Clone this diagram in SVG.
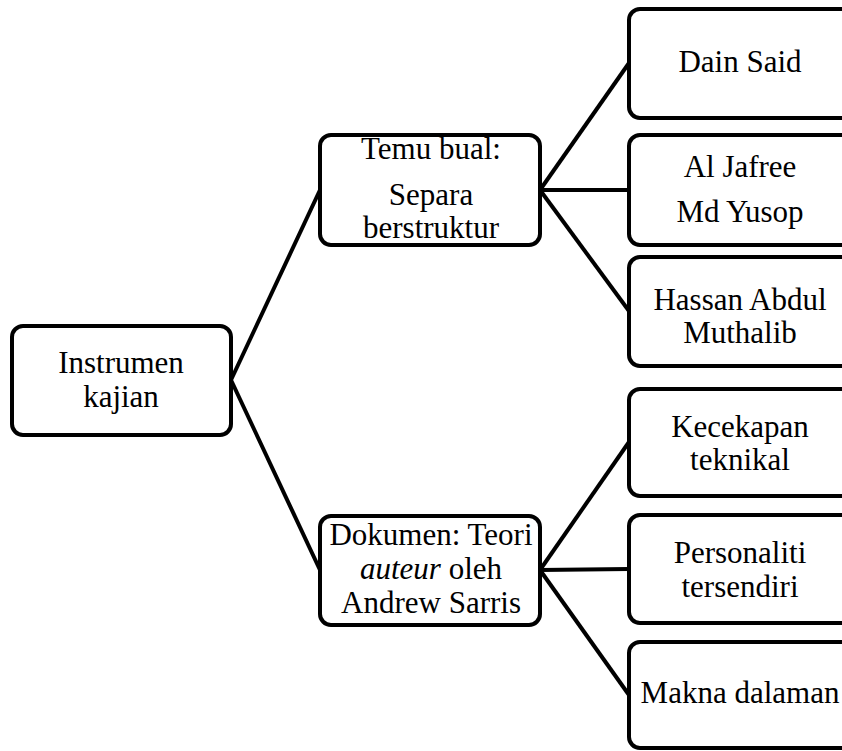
<svg xmlns="http://www.w3.org/2000/svg" width="842" height="751" viewBox="0 0 842 751">
<style>
.box{fill:#fff;stroke:#000;stroke-width:4}
.t{font-family:"Liberation Serif","Times New Roman",serif;font-size:31px;fill:#000;text-anchor:middle}
.c{stroke:#000;stroke-width:4;fill:none}
</style>
<rect width="842" height="751" fill="#fff"/>
<g id="connectors">
<line class="c" x1="231" y1="380" x2="320" y2="190"/>
<line class="c" x1="231" y1="380" x2="320" y2="570"/>
<line class="c" x1="540" y1="190" x2="629" y2="63"/>
<line class="c" x1="540" y1="190" x2="629" y2="190"/>
<line class="c" x1="540" y1="190" x2="629" y2="311"/>
<line class="c" x1="540" y1="570" x2="629" y2="442"/>
<line class="c" x1="540" y1="570" x2="629" y2="569"/>
<line class="c" x1="540" y1="570" x2="629" y2="695"/>
</g>
<g id="root">
<rect class="box" x="12" y="326" width="219" height="109" rx="11"/>
<text class="t" x="121" y="373">Instrumen</text>
<text class="t" x="121" y="407">kajian</text>
</g>
<g id="temu">
<rect class="box" x="320" y="135" width="220" height="110" rx="11"/>
<text class="t" x="431" y="159">Temu bual:</text>
<text class="t" x="431" y="205">Separa</text>
<text class="t" x="431" y="238">berstruktur</text>
</g>
<g id="dokumen">
<rect class="box" x="320" y="516" width="220" height="109" rx="11"/>
<text class="t" x="431" y="545">Dokumen: Teori</text>
<text class="t" x="431" y="579"><tspan font-style="italic">auteur</tspan> oleh</text>
<text class="t" x="431" y="613">Andrew Sarris</text>
</g>
<g id="dain">
<rect class="box" x="629" y="9" width="223" height="109" rx="11"/>
<text class="t" x="740" y="72">Dain Said</text>
</g>
<g id="aljafree">
<rect class="box" x="629" y="135" width="223" height="110" rx="11"/>
<text class="t" x="740" y="177">Al Jafree</text>
<text class="t" x="740" y="222">Md Yusop</text>
</g>
<g id="hassan">
<rect class="box" x="629" y="257" width="223" height="109" rx="11"/>
<text class="t" x="740" y="310">Hassan Abdul</text>
<text class="t" x="740" y="343">Muthalib</text>
</g>
<g id="kecekapan">
<rect class="box" x="629" y="389" width="223" height="107" rx="11"/>
<text class="t" x="740" y="437">Kecekapan</text>
<text class="t" x="740" y="470">teknikal</text>
</g>
<g id="personaliti">
<rect class="box" x="629" y="515" width="223" height="108" rx="11"/>
<text class="t" x="740" y="563">Personaliti</text>
<text class="t" x="740" y="597">tersendiri</text>
</g>
<g id="makna">
<rect class="box" x="629" y="642" width="223" height="106" rx="11"/>
<text class="t" x="740" y="703">Makna dalaman</text>
</g>
</svg>
